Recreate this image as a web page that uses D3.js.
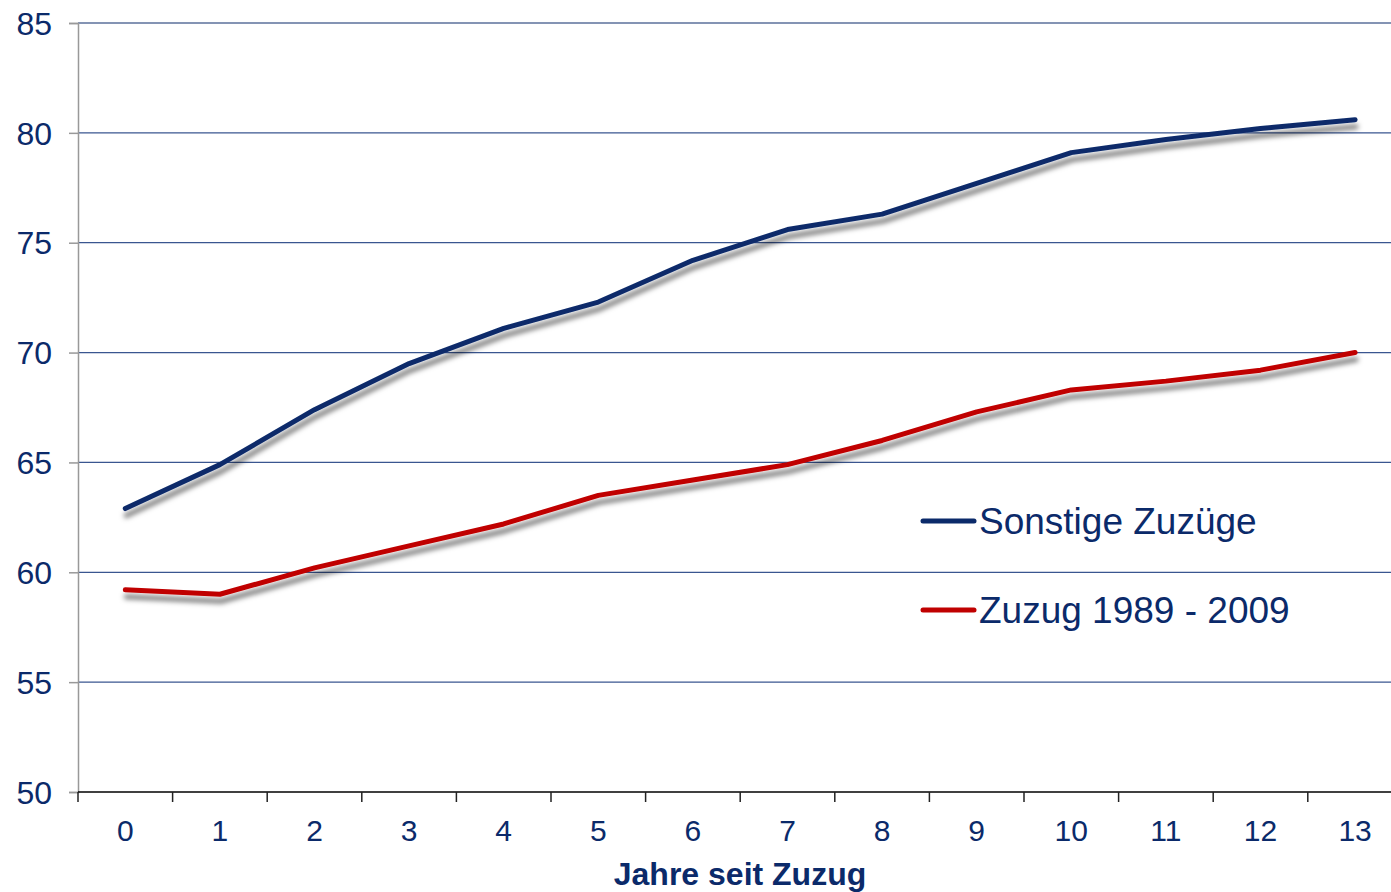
<!DOCTYPE html>
<html>
<head>
<meta charset="utf-8">
<script src="https://cdn.jsdelivr.net/npm/d3@7"></script>
<style>
  body { margin: 0; background: #fff; overflow: hidden; }
  text { font-family: "Liberation Sans", Arial, sans-serif; }
</style>
</head>
<body>
<div id="chart"></div>
<script>
// data
var years = [0, 1, 2, 3, 4, 5, 6, 7, 8, 9, 10, 11, 12, 13];
var sonstige = [62.9, 64.9, 67.4, 69.5, 71.1, 72.3, 74.2, 75.6, 76.3, 77.7, 79.1, 79.7, 80.2, 80.6];
var zuzug = [59.2, 59.0, 60.2, 61.2, 62.2, 63.5, 64.2, 64.9, 66.0, 67.3, 68.3, 68.7, 69.2, 70.0];
var yTicks = [50, 55, 60, 65, 70, 75, 80, 85];
var seriesNames = ["Sonstige Zuzüge", "Zuzug 1989 - 2009"];
var seriesColors = ["#0b2a6a", "#c00000"];

var W = 1391, H = 892;
var mLeft = 78, mTop = 23, mBottom = 792;
var band = 94.6;
var mRight = mLeft + band * years.length;

var svg = d3.select("#chart").append("svg")
  .attr("width", W)
  .attr("height", H);

var defs = svg.append("defs");
var f = defs.append("filter").attr("id", "shadow")
  .attr("x", "-10%").attr("y", "-50%").attr("width", "120%").attr("height", "200%");
f.append("feDropShadow")
  .attr("dx", 1).attr("dy", 7).attr("stdDeviation", 2.6)
  .attr("flood-color", "#000").attr("flood-opacity", 0.5);

var x = d3.scaleBand()
  .domain(years)
  .range([mLeft, mRight]);

var y = d3.scaleLinear()
  .domain([50, 85])
  .range([mBottom, mTop]);

// gridlines
svg.append("g")
  .selectAll("line")
  .data(yTicks.filter(function(d) { return d > 50; }))
  .join("line")
  .attr("x1", mLeft).attr("x2", W)
  .attr("y1", function(d) { return y(d); })
  .attr("y2", function(d) { return y(d); })
  .attr("stroke", function(d) { return d == 85 ? "#0b2a6a" : "#3a5690"; })
  .attr("stroke-width", 1.2);

// y axis
var axisY = d3.axisLeft(y).tickValues(yTicks).tickSize(9).tickPadding(17);
var gy = svg.append("g")
  .attr("transform", "translate(" + mLeft + ",0)")
  .call(axisY);
gy.select(".domain").attr("stroke", "#999").attr("stroke-width", 1.5);
gy.selectAll(".tick line").attr("stroke", "#999").attr("stroke-width", 1.5);
gy.selectAll(".tick text")
  .attr("fill", "#0b2a6a")
  .attr("font-size", 32)
  .attr("dy", "0.35em")
  .style("font-family", "Liberation Sans, Arial, sans-serif");

// x axis
var gx = svg.append("g")
  .attr("transform", "translate(0," + mBottom + ")");
gx.append("line")
  .attr("x1", mLeft).attr("x2", W)
  .attr("stroke", "#000").attr("stroke-width", 1.5);
var edges = years.map(function(d) { return x(d); });
gx.selectAll(".tk")
  .data(edges)
  .join("line")
  .attr("class", "tk")
  .attr("x1", function(d) { return d; })
  .attr("x2", function(d) { return d; })
  .attr("y1", 0).attr("y2", 10)
  .attr("stroke", "#222").attr("stroke-width", 1.5);
gx.selectAll(".lbl")
  .data(years)
  .join("text")
  .attr("class", "lbl")
  .attr("x", function(d) { return x(d) + x.bandwidth() / 2; })
  .attr("y", 49)
  .attr("text-anchor", "middle")
  .attr("fill", "#0b2a6a")
  .attr("font-size", 30)
  .text(function(d) { return d; });

svg.append("text")
  .attr("x", 740)
  .attr("y", 885)
  .attr("text-anchor", "middle")
  .attr("fill", "#0b2a6a")
  .attr("font-size", 32)
  .attr("font-weight", "bold")
  .text("Jahre seit Zuzug");

// lines
var line = d3.line()
  .x(function(d, i) { return x(years[i]) + x.bandwidth() / 2; })
  .y(function(d) { return y(d); });

[sonstige, zuzug].forEach(function(s, i) {
  svg.append("path")
    .datum(s)
    .attr("fill", "none")
    .attr("stroke", seriesColors[i])
    .attr("stroke-width", 5)
    .attr("stroke-linejoin", "round")
    .attr("stroke-linecap", "round")
    .attr("filter", "url(#shadow)")
    .attr("d", line);
});

// legend
var legend = svg.append("g");
var legY = [521, 610];
seriesNames.forEach(function(n, i) {
  legend.append("line")
    .attr("x1", 923).attr("x2", 974)
    .attr("y1", legY[i]).attr("y2", legY[i])
    .attr("stroke", seriesColors[i])
    .attr("stroke-width", 5)
    .attr("stroke-linecap", "round");
  legend.append("text")
    .attr("x", 979)
    .attr("y", legY[i] + 13)
    .attr("fill", "#0b2a6a")
    .attr("font-size", 37)
    .text(n);
});
</script>
</body>
</html>
